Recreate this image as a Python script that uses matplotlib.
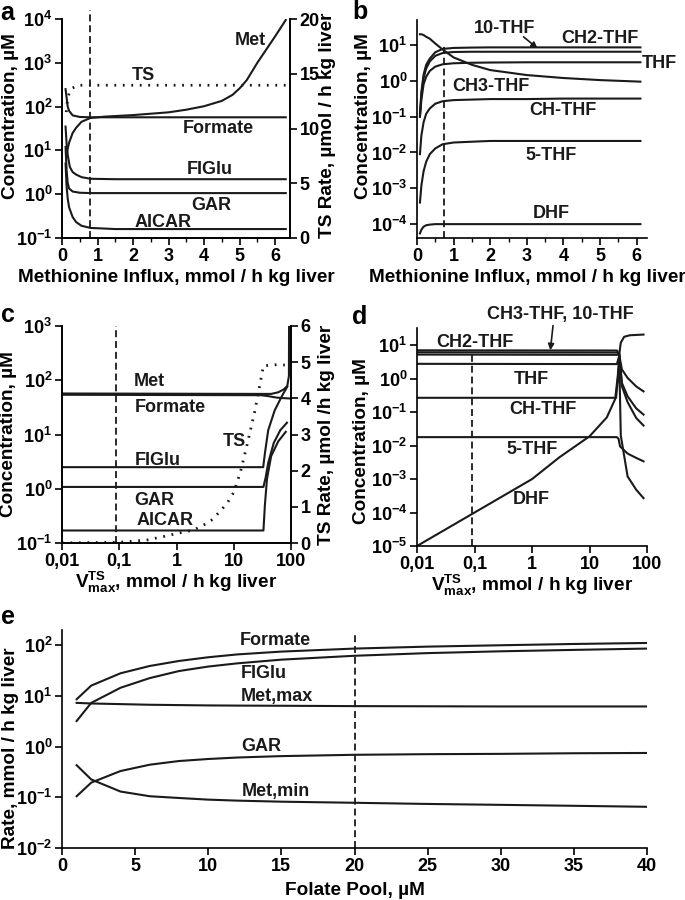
import matplotlib
matplotlib.use("Agg")
import matplotlib.pyplot as plt
from matplotlib.ticker import NullLocator, MultipleLocator

plt.rcParams['font.family'] = ['Liberation Sans', 'DejaVu Sans']
plt.rcParams['font.weight'] = 'bold'
plt.rcParams['mathtext.fontset'] = 'custom'
plt.rcParams['mathtext.rm'] = 'Liberation Sans:bold'
plt.rcParams['mathtext.bf'] = 'Liberation Sans:bold'
plt.rcParams['mathtext.it'] = 'Liberation Sans:bold:italic'
plt.rcParams['mathtext.default'] = 'bf'
plt.rcParams['lines.scale_dashes'] = False
plt.rcParams['axes.linewidth'] = 1.2

# ---------------- Panel a : methionine influx ----------------
a_met_x = [0.12, 0.15, 0.2, 0.3, 0.4, 0.55, 0.8, 1.2, 2, 3, 3.5, 4, 4.5, 4.8, 5.0, 5.2, 5.5, 5.8, 6.0, 6.3]
a_met_y = [7, 10, 15, 25, 33, 45, 55, 59, 64, 74, 85, 102, 135, 185, 260, 400, 1000, 2300, 4000, 9500]
a_formate_x = [0.1, 0.13, 0.16, 0.2, 0.3, 0.5, 0.8, 2, 4, 6.3]
a_formate_y = [250, 160, 100, 80, 63, 58, 57, 57, 57, 57]
a_figlu_x = [0.1, 0.13, 0.16, 0.22, 0.3, 0.4, 0.55, 0.8, 1.5, 6.3]
a_figlu_y = [35, 14, 8, 4.2, 3.2, 2.8, 2.45, 2.25, 2.2, 2.2]
a_gar_x = [0.1, 0.13, 0.16, 0.2, 0.3, 0.5, 0.8, 6.3]
a_gar_y = [12, 3.5, 1.8, 1.35, 1.15, 1.08, 1.06, 1.06]
a_aicar_x = [0.1, 0.13, 0.16, 0.2, 0.3, 0.4, 0.55, 0.8, 1.5, 6.3]
a_aicar_y = [5, 1.5, 0.8, 0.5, 0.3, 0.23, 0.19, 0.17, 0.16, 0.16]
a_ts_x = [0.12, 0.15, 0.2, 0.3, 0.45, 6.3]
a_ts_y = [11.5, 12.5, 13.2, 13.7, 13.95, 13.95]
a_ref = 0.79

# ---------------- Panel b : folates vs methionine influx ----------------
b_x = [0.08, 0.12, 0.18, 0.25, 0.35, 0.5, 0.7, 1.0, 1.5, 2, 3, 4, 5, 6.1]
b_ch2thf = [0.12, 0.5, 1.5, 2.8, 4.2, 6.3, 7.8, 8.3, 8.5, 8.6, 8.6, 8.6, 8.6, 8.6]
b_10thf = [0.1, 0.4, 1.2, 2.2, 3.5, 5.0, 6.0, 6.4, 6.5, 6.5, 6.5, 6.5, 6.5, 6.5]
b_thf = [0.1, 0.3, 0.8, 1.3, 1.9, 2.5, 2.9, 3.1, 3.2, 3.25, 3.3, 3.3, 3.3, 3.3]
b_ch3thf = [20, 20, 19, 17, 15, 11, 7.5, 4.5, 2.8, 2.0, 1.45, 1.2, 1.05, 0.95]
b_chthf = [0.009, 0.03, 0.07, 0.12, 0.17, 0.23, 0.27, 0.29, 0.30, 0.31, 0.31, 0.32, 0.32, 0.32]
b_5thf = [4e-4, 1.2e-3, 3e-3, 5.5e-3, 9e-3, 0.013, 0.017, 0.019, 0.020, 0.021, 0.021, 0.021, 0.021, 0.021]
b_dhf = [5.5e-5, 7e-5, 8.5e-5, 9.3e-5, 9.7e-5, 1e-4, 1e-4, 1e-4, 1e-4, 1e-4, 1e-4, 1e-4, 1e-4, 1e-4]
b_ref = 0.74

# ---------------- Panel c : metabolites vs V_TS ----------------
c_met_x = [0.01, 30, 45, 60, 75, 86, 92, 92.5, 100]
c_met_y = [57, 56, 56, 60, 68, 78, 120, 1000, 1000]
c_formate_x = [0.01, 30, 40, 55, 70, 100]
c_formate_y = [54, 53, 51, 48, 47, 46]
c_figlu_x = [0.01, 32.7, 35, 40, 52, 70, 86]
c_figlu_y = [2.5, 2.5, 4.5, 12, 28, 52, 76]
c_gar_x = [0.01, 33, 36, 40, 50, 65, 85]
c_gar_y = [1.08, 1.08, 1.6, 3, 7, 12, 16.5]
c_aicar_x = [0.01, 33, 35, 38, 45, 60, 81]
c_aicar_y = [0.17, 0.17, 0.5, 1.5, 4, 7.5, 11.2]
c_ts_x = [0.01, 0.1, 0.3, 0.6, 1, 2, 3, 4, 6, 8, 10, 13, 17, 23, 28, 33, 56, 78]
c_ts_y = [0.0, 0.02, 0.08, 0.18, 0.26, 0.36, 0.5, 0.62, 0.9, 1.15, 1.4, 1.95, 2.7, 3.6, 4.3, 4.9, 4.93, 4.92]
c_ref = 0.087

# ---------------- Panel d : folates vs V_TS ----------------
d_ch2thf_x = [0.01, 30, 33, 36.6, 46, 65, 87]
d_ch2thf_y = [7.1, 7.0, 5.5, 0.75, 0.3, 0.13, 0.085]
d_10thf_x = [0.01, 30, 33, 36.6, 46, 65, 87]
d_10thf_y = [6.2, 6.1, 5.5, 0.6, 0.2, 0.067, 0.04]
d_ch3thf_x = [0.01, 30, 33, 35, 40, 50, 87]
d_ch3thf_y = [5.3, 5.2, 5.5, 12, 18, 20, 21]
d_thf_x = [0.01, 30, 33, 36.6, 46, 65, 87]
d_thf_y = [2.8, 2.75, 5.0, 1.9, 1.06, 0.59, 0.42]
d_chthf_x = [0.01, 29, 33, 35, 46, 65, 87]
d_chthf_y = [0.27, 0.27, 3.0, 0.02, 1.2e-3, 4.8e-4, 2.7e-4]
d_5thf_x = [0.01, 30, 32, 34, 46, 65, 87]
d_5thf_y = [0.018, 0.018, 0.016, 0.0095, 0.0058, 0.0043, 0.0034]
d_dhf_x = [0.01, 0.1, 1, 3, 10, 20, 28, 31, 33]
d_dhf_y = [1e-5, 1e-4, 1e-3, 4.5e-3, 0.019, 0.07, 0.25, 1.2, 5.0]
d_ref = 0.09

# ---------------- Panel e : rates vs folate pool ----------------
e_x = [1, 2, 4, 6, 8, 10, 12, 15, 20, 25, 30, 35, 40]
e_formate = [8.6, 16, 28, 39, 49, 58, 66, 75, 86, 94, 100, 106, 111]
e_figlu = [3.2, 7.3, 14.5, 22.5, 31, 38, 44, 52, 62, 70, 76, 81, 86]
e_metmax = [7.3, 7.1, 6.9, 6.7, 6.6, 6.5, 6.45, 6.4, 6.3, 6.25, 6.2, 6.2, 6.2]
e_gar = [0.105, 0.195, 0.33, 0.44, 0.52, 0.57, 0.61, 0.65, 0.69, 0.71, 0.72, 0.74, 0.75]
e_metmin = [0.43, 0.225, 0.13, 0.105, 0.097, 0.09, 0.086, 0.082, 0.078, 0.074, 0.071, 0.068, 0.065]
e_ref = 20

# ---------------- ticks ----------------
a_yticks = [1e-1, 1e0, 1e1, 1e2, 1e3, 1e4]
a_yticklabels = ['$10^{-1}$', '$10^{0}$', '$10^{1}$', '$10^{2}$', '$10^{3}$', '$10^{4}$']
a_xticks = [0, 1, 2, 3, 4, 5, 6]
a_rticks = [0, 5, 10, 15, 20]
b_yticks = [1e-4, 1e-3, 1e-2, 1e-1, 1e0, 1e1]
b_yticklabels = ['$10^{-4}$', '$10^{-3}$', '$10^{-2}$', '$10^{-1}$', '$10^{0}$', '$10^{1}$']
c_yticks = [1e-1, 1e0, 1e1, 1e2, 1e3]
c_yticklabels = ['$10^{-1}$', '$10^{0}$', '$10^{1}$', '$10^{2}$', '$10^{3}$']
cd_xticks = [0.01, 0.1, 1, 10, 100]
cd_xticklabels = ['0,01', '0,1', '1', '10', '100']
c_rticks = [0, 1, 2, 3, 4, 5, 6]
d_yticks = [1e-5, 1e-4, 1e-3, 1e-2, 1e-1, 1e0, 1e1]
d_yticklabels = ['$10^{-5}$', '$10^{-4}$', '$10^{-3}$', '$10^{-2}$', '$10^{-1}$', '$10^{0}$', '$10^{1}$']
e_yticks = [1e-2, 1e-1, 1e0, 1e1, 1e2]
e_yticklabels = ['$10^{-2}$', '$10^{-1}$', '$10^{0}$', '$10^{1}$', '$10^{2}$']
e_xticks = [0, 5, 10, 15, 20, 25, 30, 35, 40]

FS = 13      # tick / curve labels
LFS = 13.7   # axis labels
LW = 1.5
K = '#1a1a1a'
DASH = (0, (5, 2.8))
DOT = (0, (1.3, 4.8))

fig = plt.figure(figsize=(6.85, 9.0), dpi=100)
W, H = 685.0, 900.0


def axes_px(l, t, r, b):
    return fig.add_axes([l / W, 1 - b / H, (r - l) / W, (b - t) / H])


def style(ax, right=False):
    ax.spines['top'].set_visible(False)
    ax.spines['right'].set_visible(right)
    ax.tick_params(direction='out', length=5, width=1.2, labelsize=FS, pad=2)
    ax.tick_params(which='minor', direction='out', length=3, width=1.0)
    for lab in ax.get_xticklabels() + ax.get_yticklabels():
        lab.set_fontweight('bold')


def lbl(ax, x, y, s, **kw):
    ax.text(x, y, s, fontsize=FS, fontweight='bold', ha='center', va='center', color=K, **kw)


def ylab(ax, s, x, y):
    ax.set_ylabel(s, fontsize=LFS, fontweight='bold')
    ax.yaxis.set_label_coords(x, y)


# ===== a =====
ax = axes_px(62, 19, 290, 238)
ax.set_yscale('log')
ax.set_xlim(0, 6.42)
ax.set_ylim(0.1, 1e4)
for xs, ys in [(a_met_x, a_met_y), (a_formate_x, a_formate_y), (a_figlu_x, a_figlu_y),
               (a_gar_x, a_gar_y), (a_aicar_x, a_aicar_y)]:
    ax.plot(xs, ys, color=K, lw=LW)
ax.axvline(a_ref, ymin=0, ymax=1.04, color=K, lw=1.3, ls=DASH, clip_on=False)
ax.set_yticks(a_yticks)
ax.set_yticklabels(a_yticklabels)
ax.yaxis.set_minor_locator(NullLocator())
ax.set_xticks(a_xticks)
ax.xaxis.set_minor_locator(MultipleLocator(0.5))
ax.set_xlabel('Methionine Influx, mmol / h kg liver', fontsize=LFS, fontweight='bold', labelpad=3)
ylab(ax, 'Concentration, µM', -0.19, 0.555)
style(ax, right=True)
axr = ax.twinx()
axr.set_ylim(0, 20)
axr.plot(a_ts_x, a_ts_y, color=K, lw=2.0, ls=DOT)
axr.set_yticks(a_rticks)
ylab(axr, 'TS Rate, µmol / h kg liver', 1.128, 0.515)
style(axr, right=True)
axr.spines['right'].set_visible(True)
lbl(ax, 5.3, 3300, 'Met')
lbl(ax, 2.28, 525, 'TS')
lbl(ax, 4.4, 32, 'Formate')
lbl(ax, 4.17, 3.6, 'FIGlu')
lbl(ax, 4.2, 0.56, 'GAR')
lbl(ax, 2.85, 0.23, 'AICAR')
fig.text(7 / W, 1 - 13 / H, 'a', fontsize=18, fontweight='bold', ha='center', va='center')

# ===== b =====
ax = axes_px(417, 20, 647, 238)
ax.set_yscale('log')
ax.set_xlim(0, 6.28)
ax.set_ylim(4.1e-5, 50)
for ys in [b_ch2thf, b_10thf, b_thf, b_ch3thf, b_chthf, b_5thf, b_dhf]:
    ax.plot(b_x, ys, color=K, lw=LW)
ax.axvline(b_ref, ymin=0, ymax=0.88, color=K, lw=1.3, ls=DASH)
ax.set_yticks(b_yticks)
ax.set_yticklabels(b_yticklabels)
ax.yaxis.set_minor_locator(NullLocator())
ax.set_xticks(a_xticks)
ax.xaxis.set_minor_locator(MultipleLocator(0.5))
ax.set_xlabel('Methionine Influx, mmol / h kg liver', fontsize=LFS, fontweight='bold')
ax.xaxis.set_label_coords((527 - 417) / 230.0, -0.14)
ylab(ax, 'Concentration, µM', -0.196, 0.56)
style(ax)
lbl(ax, 2.4, 29, '10-THF')
ax.annotate('', xy=(3.35, 7.2), xytext=(2.85, 19),
            arrowprops=dict(arrowstyle='-|>', color=K, lw=1.2, mutation_scale=9))
lbl(ax, 5.0, 15.4, 'CH2-THF')
lbl(ax, 6.62, 3.1, 'THF', clip_on=False)
lbl(ax, 2.03, 0.68, 'CH3-THF')
lbl(ax, 3.99, 0.15, 'CH-THF')
lbl(ax, 3.67, 0.0085, '5-THF')
lbl(ax, 3.67, 2.0e-4, 'DHF')
fig.text(360 / W, 1 - 12 / H, 'b', fontsize=18, fontweight='bold', ha='center', va='center')

# ===== c =====
ax = axes_px(62, 326, 291, 543)
ax.set_xscale('log')
ax.set_yscale('log')
ax.set_xlim(0.01, 100)
ax.set_ylim(0.1, 1000)
for xs, ys in [(c_met_x, c_met_y), (c_formate_x, c_formate_y), (c_figlu_x, c_figlu_y),
               (c_gar_x, c_gar_y), (c_aicar_x, c_aicar_y)]:
    ax.plot(xs, ys, color=K, lw=LW)
ax.axvline(c_ref, ymin=0, ymax=1.0, color=K, lw=1.3, ls=DASH)
ax.set_yticks(c_yticks)
ax.set_yticklabels(c_yticklabels)
ax.yaxis.set_minor_locator(NullLocator())
ax.set_xticks(cd_xticks)
ax.set_xticklabels(cd_xticklabels)
ax.xaxis.set_minor_locator(NullLocator())
ax.set_xlabel(r'$\mathbf{V^{TS}_{max}}$, mmol / h kg liver', fontsize=LFS, fontweight='bold', labelpad=0)
ylab(ax, 'Concentration, µM', -0.197, 0.5)
style(ax, right=True)
axr = ax.twinx()
axr.set_ylim(0, 6)
axr.plot(c_ts_x, c_ts_y, color=K, lw=2.0, ls=DOT)
axr.set_yticks(c_rticks)
ylab(axr, 'TS Rate, µmol /h kg liver', 1.118, 0.5)
style(axr, right=True)
axr.spines['right'].set_visible(True)
lbl(ax, 0.333, 94, 'Met')
lbl(ax, 0.765, 31.7, 'Formate')
lbl(ax, 10.4, 7.4, 'TS')
lbl(ax, 0.476, 3.3, 'FIGlu')
lbl(ax, 0.417, 0.62, 'GAR')
lbl(ax, 0.625, 0.265, 'AICAR')
fig.text(8 / W, 1 - 315 / H, 'c', fontsize=18, fontweight='bold', ha='center', va='center')

# ===== d =====
ax = axes_px(417, 328, 647, 546)
ax.set_xscale('log')
ax.set_yscale('log')
ax.set_xlim(0.01, 100)
ax.set_ylim(1e-5, 33)
for xs, ys in [(d_ch2thf_x, d_ch2thf_y), (d_10thf_x, d_10thf_y), (d_ch3thf_x, d_ch3thf_y),
               (d_thf_x, d_thf_y), (d_chthf_x, d_chthf_y), (d_5thf_x, d_5thf_y), (d_dhf_x, d_dhf_y)]:
    ax.plot(xs, ys, color=K, lw=LW)
ax.axvline(d_ref, ymin=0, ymax=0.88, color=K, lw=1.3, ls=DASH)
ax.set_yticks(d_yticks)
ax.set_yticklabels(d_yticklabels)
ax.yaxis.set_minor_locator(NullLocator())
ax.set_xticks(cd_xticks)
ax.set_xticklabels(cd_xticklabels)
ax.xaxis.set_minor_locator(NullLocator())
ax.set_xlabel(r'$\mathbf{V^{TS}_{max}}$, mmol / h kg liver', fontsize=LFS, fontweight='bold', labelpad=0)
ylab(ax, 'Concentration, µM', -0.204, 0.48)
style(ax)
lbl(ax, 3.08, 83, 'CH3-THF, 10-THF', clip_on=False)
ax.annotate('', xy=(2.06, 5.9), xytext=(2.35, 47),
            arrowprops=dict(arrowstyle='-|>', color=K, lw=1.2, mutation_scale=9), annotation_clip=False)
lbl(ax, 0.101, 11.8, 'CH2-THF')
lbl(ax, 0.99, 0.94, 'THF')
lbl(ax, 1.57, 0.12, 'CH-THF')
lbl(ax, 0.99, 0.0076, '5-THF')
lbl(ax, 0.99, 2.4e-4, 'DHF')
fig.text(360 / W, 1 - 317 / H, 'd', fontsize=18, fontweight='bold', ha='center', va='center')

# ===== e =====
ax = axes_px(62, 630, 647, 848)
ax.set_yscale('log')
ax.set_xlim(0, 40)
ax.set_ylim(0.01, 200)
for ys in [e_formate, e_figlu, e_metmax, e_gar, e_metmin]:
    ax.plot(e_x, ys, color=K, lw=LW)
ax.axvline(e_ref, ymin=0, ymax=0.99, color=K, lw=1.3, ls=DASH)
ax.set_yticks(e_yticks)
ax.set_yticklabels(e_yticklabels)
ax.yaxis.set_minor_locator(NullLocator())
ax.set_xticks(e_xticks)
ax.set_xlabel('Folate Pool, µM', fontsize=LFS, fontweight='bold', labelpad=5)
ylab(ax, 'Rate, mmol / h kg liver', -0.0735, 0.46)
style(ax)
lbl(ax, 14.6, 126, 'Formate')
lbl(ax, 13.8, 27.7, 'FIGlu')
lbl(ax, 14.7, 9.9, 'Met,max')
lbl(ax, 13.6, 0.99, 'GAR')
lbl(ax, 14.6, 0.129, 'Met,min')
fig.text(8 / W, 1 - 617 / H, 'e', fontsize=18, fontweight='bold', ha='center', va='center')

fig.savefig('out.png', dpi=100)
